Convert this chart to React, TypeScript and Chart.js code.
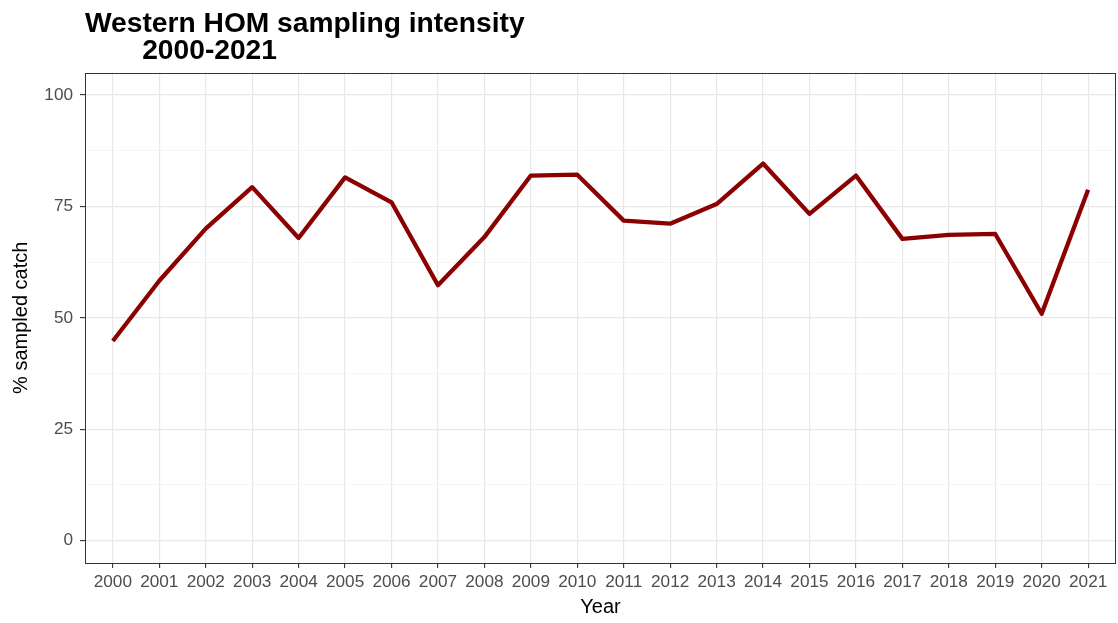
import React, { useEffect, useRef } from "react";
import { Chart, registerables } from "chart.js";

Chart.register(...registerables);

const years: string[] = [
  "2000", "2001", "2002", "2003", "2004", "2005", "2006", "2007", "2008", "2009", "2010",
  "2011", "2012", "2013", "2014", "2015", "2016", "2017", "2018", "2019", "2020", "2021",
];
const sampledPct: number[] = [
  44.8, 58.3, 70.0, 79.3, 67.9, 81.5, 75.9, 57.3, 68.1, 81.9, 82.1,
  71.8, 71.1, 75.5, 84.6, 73.3, 81.9, 67.7, 68.6, 68.8, 50.9, 78.7,
];
const yTickValues: number[] = [0, 12.5, 25, 37.5, 50, 62.5, 75, 87.5, 100];
const titleLines: string[] = ["Western HOM sampling intensity", "       \u200A2000-2021"];

const FONT = "'Liberation Sans', Arial, Helvetica, sans-serif";

const panelBorder = {
  id: "panelBorder",
  afterDraw(chart: any) {
    const { ctx, chartArea } = chart;
    ctx.save();
    ctx.strokeStyle = "#333333";
    ctx.lineWidth = 1;
    ctx.strokeRect(
      Math.round(chartArea.left) + 0.5,
      Math.round(chartArea.top) + 0.5,
      Math.round(chartArea.right - chartArea.left) - 1,
      Math.round(chartArea.bottom - chartArea.top)
    );
    ctx.restore();
  },
};

const whiteBg = {
  id: "whiteBg",
  beforeDraw(chart: any) {
    const { ctx, width, height } = chart;
    ctx.save();
    ctx.fillStyle = "#ffffff";
    ctx.fillRect(0, 0, width, height);
    ctx.restore();
  },
};

export default function App() {
  const ref = useRef<HTMLCanvasElement | null>(null);

  useEffect(() => {
    if (!ref.current) return;
    const chart = new Chart(ref.current, {
      type: "line",
      data: {
        datasets: [
          {
            label: "% sampled catch",
            data: sampledPct.map((v, i) => ({ x: i, y: v })),
            borderColor: "#8b0000",
            backgroundColor: "#8b0000",
            borderWidth: 4.3,
            pointRadius: 0,
            tension: 0,
            borderJoinStyle: "round",
            borderCapStyle: "butt",
          },
        ],
      },
      options: {
        responsive: false,
        animation: false,
        layout: { padding: { top: 0, left: 0, right: 2, bottom: 0 } },
        plugins: {
          legend: { display: false },
          tooltip: { enabled: false },
          title: {
            display: true,
            text: titleLines,
            align: "start",
            fullSize: false,
            color: "#000000",
            font: { family: FONT, size: 28.2, weight: "bold", lineHeight: 0.95 },
            padding: { top: 11, bottom: 8 },
          },
        },
        scales: {
          x: {
            type: "linear",
            min: -0.6,
            max: years.length - 1 + 0.6,
            afterBuildTicks: (scale: any) => {
              scale.ticks = years.map((_, i) => ({ value: i }));
            },
            afterFit: (scale: any) => {
              scale.height = 60;
            },
            ticks: {
              autoSkip: false,
              maxRotation: 0,
              padding: 4,
              color: "#4d4d4d",
              font: { family: FONT, size: 17.2, lineHeight: 1.2 },
              callback: (v: any) => years[Math.round(Number(v))] ?? "",
            },
            grid: {
              color: "#e8e8e8",
              lineWidth: 1.2,
              tickLength: 5,
              tickColor: "#333333",
              tickWidth: 1.1,
            },
            border: { display: false },
            title: {
              display: true,
              text: "Year",
              color: "#000000",
              font: { family: FONT, size: 20, lineHeight: 1.2 },
              padding: { top: 0, bottom: 4 },
            },
          },
          y: {
            type: "linear",
            min: -5,
            max: 105,
            afterBuildTicks: (scale: any) => {
              scale.ticks = yTickValues.map((v) => ({ value: v }));
            },
            afterFit: (scale: any) => {
              scale.width = 85;
            },
            ticks: {
              autoSkip: false,
              padding: 7,
              color: "#4d4d4d",
              font: { family: FONT, size: 17.2, lineHeight: 1.2 },
              callback: (v: any) => (Number(v) % 25 === 0 ? String(v) : ""),
            },
            grid: {
              color: (ctx: any) => (ctx.tick && ctx.tick.value % 25 === 0 ? "#e8e8e8" : "#f3f3f3"),
              lineWidth: (ctx: any) => (ctx.tick && ctx.tick.value % 25 === 0 ? 1.2 : 0.8),
              tickLength: 5,
              tickColor: (ctx: any) => (ctx.tick && ctx.tick.value % 25 === 0 ? "#333333" : "rgba(0,0,0,0)"),
              tickWidth: 1.1,
            },
            border: { display: false },
            title: {
              display: true,
              text: "% sampled catch",
              color: "#000000",
              font: { family: FONT, size: 20, lineHeight: 1.2 },
              padding: { top: 9, bottom: 0 },
            },
          },
        },
      },
      plugins: [whiteBg, panelBorder],
    } as any);
    return () => chart.destroy();
  }, []);

  return (
    <div style={{ position: "fixed", left: 0, top: 0, width: 1118, height: 623, background: "#fff" }}>
      <canvas ref={ref} width={1118} height={623} style={{ display: "block" }} />
    </div>
  );
}
